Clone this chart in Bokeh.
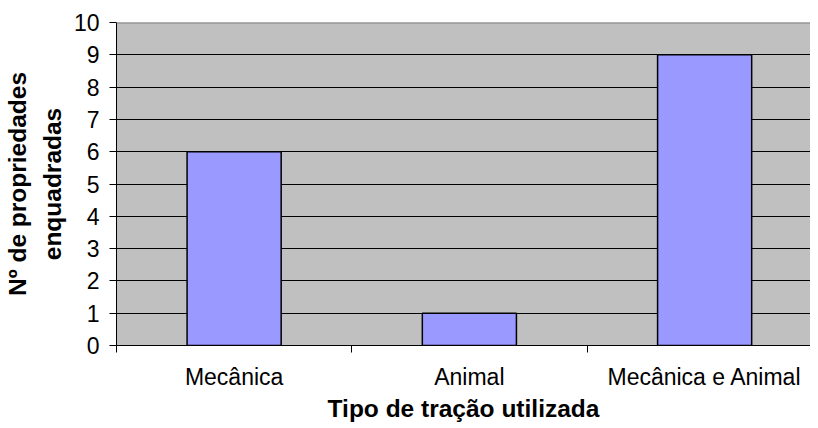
from bokeh.plotting import figure
from bokeh.models import Range1d, FixedTicker, Span
from bokeh.embed import file_html
from bokeh.resources import INLINE

categories = ["Mecânica", "Animal", "Mecânica e Animal"]
values = [6, 1, 9]
y_ticks = list(range(0, 11))

FONT = "Liberation Sans"

x_centers = [i + 0.5 for i in range(len(categories))]
x_bounds = list(range(len(categories) + 1))

p = figure(width=810, height=424, output_backend="svg", toolbar_location=None,
           x_range=Range1d(0, 2.95), y_range=Range1d(0, 10),
           min_border_left=113, min_border_right=0, min_border_top=22,
           min_border_bottom=0)

p.background_fill_color = "#C0C0C0"
p.border_fill_color = "white"
p.outline_line_color = None

p.vbar(x=x_centers, top=values, width=0.4, bottom=0,
       fill_color="#9999FF", line_color="black", line_width=1.5)

# y axis
p.yaxis.ticker = FixedTicker(ticks=y_ticks)
p.yaxis.major_tick_out = 7
p.yaxis.major_tick_in = 0
p.yaxis.minor_tick_line_color = None
p.yaxis.major_tick_line_color = "black"
p.yaxis.axis_line_color = "black"
p.yaxis.major_label_text_font = FONT
p.yaxis.major_label_text_font_size = "23px"
p.yaxis.major_label_text_color = "black"
p.yaxis.major_label_standoff = 10
p.yaxis.axis_label = "Nº de propriedades\nenquadradas"
p.yaxis.axis_label_text_font = FONT
p.yaxis.axis_label_text_font_size = "24.5px"
p.yaxis.axis_label_text_font_style = "bold"
p.yaxis.axis_label_text_color = "black"
p.yaxis.axis_label_text_line_height = 1.3
p.yaxis.axis_label_standoff = 5

# x axis: labels at category centres, ticks at boundaries
p.xaxis.ticker = FixedTicker(ticks=x_centers, minor_ticks=x_bounds)
p.xaxis.major_label_overrides = {c: lab for c, lab in zip(x_centers, categories)}
p.xaxis.major_tick_out = 0
p.xaxis.major_tick_in = 0
p.xaxis.minor_tick_out = 7
p.xaxis.minor_tick_in = 0
p.xaxis.minor_tick_line_color = "black"
p.xaxis.axis_line_color = "black"
p.xaxis.major_label_text_font = FONT
p.xaxis.major_label_text_font_size = "23px"
p.xaxis.major_label_text_color = "black"
p.xaxis.major_label_standoff = 11
p.xaxis.axis_label = "Tipo de tração utilizada"
p.xaxis.axis_label_text_font = FONT
p.xaxis.axis_label_text_font_size = "24.5px"
p.xaxis.axis_label_text_font_style = "bold"
p.xaxis.axis_label_text_color = "black"
p.xaxis.axis_label_standoff = 2

# grid
p.xgrid.grid_line_color = None
p.ygrid.ticker = FixedTicker(ticks=y_ticks)
p.ygrid.grid_line_color = "black"
p.ygrid.grid_line_width = 1

top_border = Span(location=y_ticks[-1], dimension="width", line_color="#808080", line_width=2)
p.add_layout(top_border)

open("out.html", "w").write(file_html(p, INLINE))
